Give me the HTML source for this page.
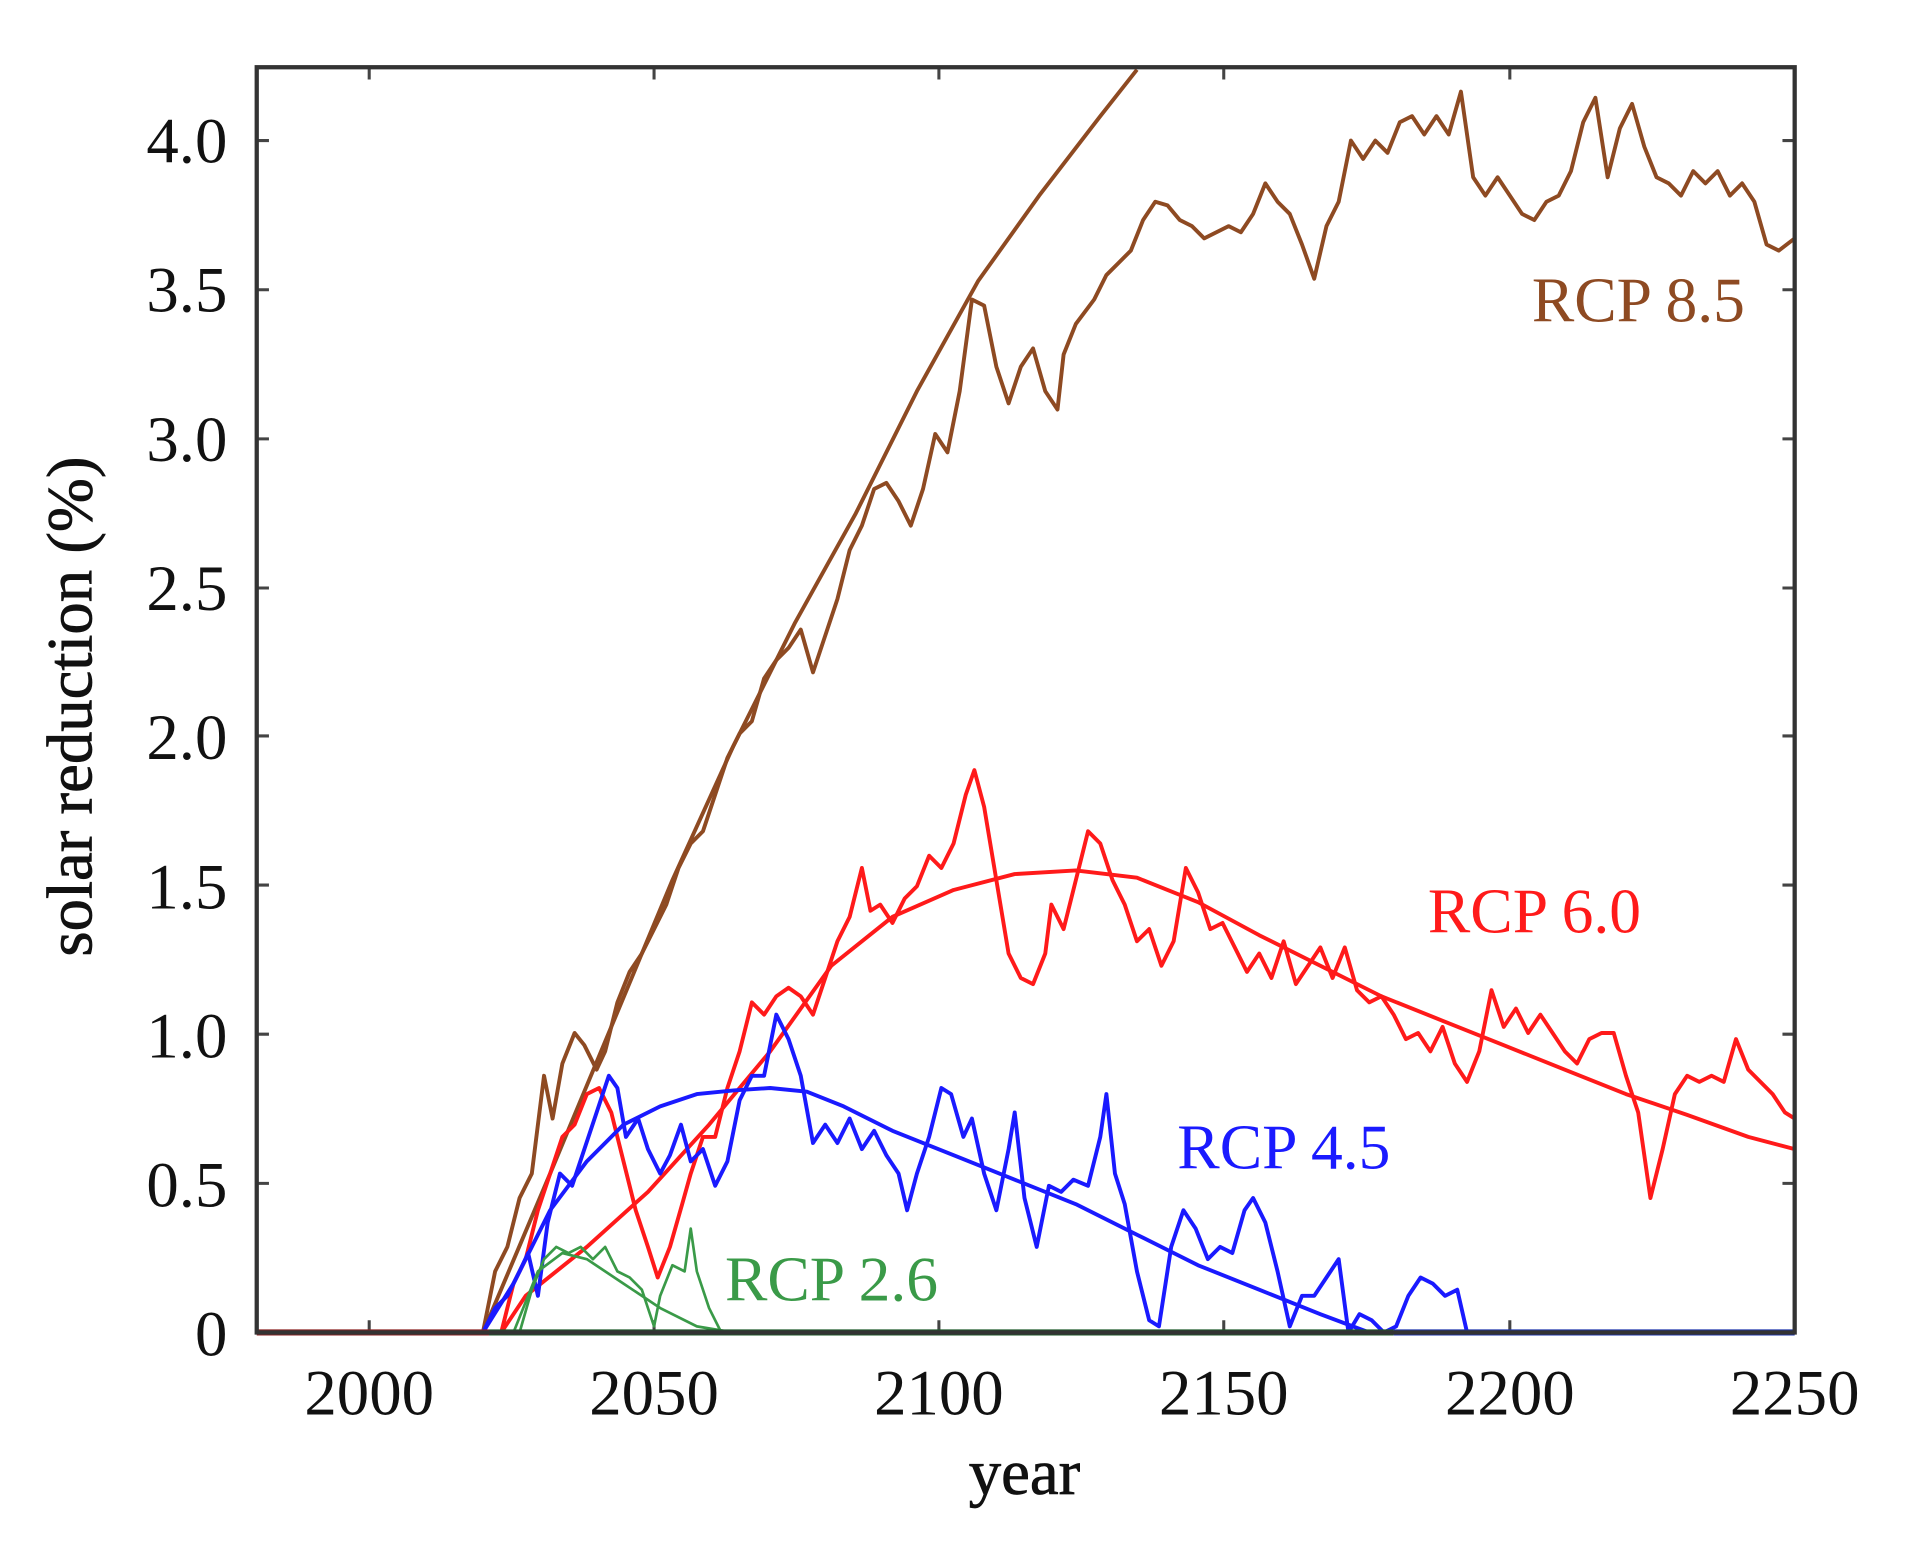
<!DOCTYPE html>
<html><head><meta charset="utf-8"><style>html,body{margin:0;padding:0;background:#fff}svg{display:block}</style></head>
<body>
<svg width="1914" height="1543" viewBox="0 0 1565.6 1262.2" preserveAspectRatio="none" xmlns="http://www.w3.org/2000/svg">
<rect width="1565.6" height="1262.2" fill="#fff"/>
<g font-family="Liberation Serif, serif" font-size="53" fill="#111" text-anchor="end">
<text x="186" y="1109">0</text><text x="186" y="987">0.5</text><text x="186" y="865">1.0</text><text x="186" y="743">1.5</text><text x="186" y="621">2.0</text><text x="186" y="499">2.5</text><text x="186" y="377">3.0</text><text x="186" y="255">3.5</text><text x="186" y="133">4.0</text>
</g>
<g font-family="Liberation Serif, serif" font-size="53" fill="#111" text-anchor="middle">
<text x="302" y="1157">2000</text><text x="535" y="1157">2050</text><text x="768" y="1157">2100</text><text x="1001" y="1157">2150</text><text x="1235" y="1157">2200</text><text x="1468" y="1157">2250</text>
<text x="838" y="1222" stroke="#111" stroke-width="0.6">year</text>
<text transform="translate(75,578) rotate(-90)" stroke="#111" stroke-width="0.6">solar reduction (%)</text>
</g>
<g stroke="#444" stroke-width="2.5">
<path d="M302 1090v-10M535 1090v-10M768 1090v-10M1001 1090v-10M1235 1090v-10M302 55v10M535 55v10M768 55v10M1001 55v10M1235 55v10"/>
<path d="M210 968h10M210 846h10M210 724h10M210 602h10M210 481h10M210 359h10M210 237h10M210 115h10M1468 968h-10M1468 846h-10M1468 724h-10M1468 602h-10M1468 481h-10M1468 359h-10M1468 237h-10M1468 115h-10"/>
</g>
<g fill="none" stroke-width="3.2" stroke-linejoin="round">
<polyline stroke="#8e4a22" points="395,1090 450,960 500,840 550,720 600,610 650,510 700,420 750,320 800,230 850,160 900,95 930,57"/>
<polyline stroke="#8e4a22" points="395,1090 405,1040 415,1020 425,980 435,960 445,880 452,915 460,870 470,845 478,855 488,875 495,860 505,820 515,795 525,780 535,760 545,740 555,710 565,690 575,680 585,650 595,620 605,600 615,590 625,555 635,540 645,530 655,515 665,550 675,520 685,490 695,450 705,430 715,400 725,395 735,410 745,430 755,400 765,355 775,370 785,320 795,245 805,250 815,300 825,330 835,300 845,285 855,320 865,335 870,290 880,265 895,245 905,225 915,215 925,205 935,180 945,165 955,168 965,180 975,185 985,195 995,190 1005,185 1015,190 1025,175 1035,150 1045,165 1055,175 1065,200 1075,228 1085,185 1095,165 1105,115 1115,130 1125,115 1135,125 1145,100 1155,95 1165,110 1175,95 1185,110 1195,75 1205,145 1215,160 1225,145 1235,160 1245,175 1255,180 1265,165 1275,160 1285,140 1295,100 1305,80 1315,145 1325,105 1335,85 1345,120 1355,145 1365,150 1375,160 1385,140 1395,150 1405,140 1415,160 1425,150 1435,165 1445,200 1455,205 1468,195"/>
<polyline stroke="#ff1a1a" points="410,1090 430,1060 480,1020 530,975 580,920 630,860 680,790 730,750 780,728 830,715 880,712 930,718 980,738 1030,765 1080,790 1130,815 1180,835 1230,855 1280,875 1330,895 1380,912 1430,930 1468,940"/>
<polyline stroke="#ff1a1a" points="410,1090 420,1050 430,1030 440,990 450,960 460,930 470,920 480,895 490,890 500,910 510,950 520,990 530,1020 538,1045 548,1020 558,985 565,960 575,930 585,930 595,890 605,860 615,820 625,830 635,815 645,808 655,815 665,830 675,800 685,770 695,750 705,710 712,745 720,740 730,755 740,735 750,725 760,700 770,710 780,690 790,650 797,630 805,660 815,720 825,780 835,800 845,805 855,780 860,740 870,760 880,720 890,680 900,690 910,720 920,740 930,770 940,760 950,790 960,770 970,710 980,730 990,760 1000,755 1010,775 1020,795 1030,780 1040,800 1050,770 1060,805 1070,790 1080,775 1090,800 1100,775 1110,810 1120,820 1130,815 1140,830 1150,850 1160,845 1170,860 1180,840 1190,870 1200,885 1210,860 1220,810 1230,840 1240,825 1250,845 1260,830 1270,845 1280,860 1290,870 1300,850 1310,845 1320,845 1330,880 1340,910 1350,980 1360,940 1370,895 1380,880 1390,885 1400,880 1410,885 1420,850 1430,875 1440,885 1450,895 1460,910 1468,915"/>
<polyline stroke="#1a1aff" points="395,1090 420,1050 450,990 480,950 510,920 540,905 570,895 600,892 630,890 660,893 690,905 730,925 780,945 830,965 880,985 930,1010 980,1035 1030,1055 1080,1075 1120,1090"/>
<polyline stroke="#1a1aff" points="395,1090 405,1070 415,1060 425,1040 432,1025 440,1060 448,1000 458,960 468,970 478,940 488,910 498,880 505,890 512,930 522,915 530,940 540,960 548,945 557,920 565,950 575,940 585,970 595,950 605,900 615,880 625,880 635,830 645,850 655,880 665,935 675,920 685,935 695,915 705,940 715,925 725,945 735,960 742,990 750,960 760,930 770,890 778,895 788,930 795,915 805,960 815,990 825,940 830,910 838,980 848,1020 858,970 868,975 878,965 890,970 900,930 905,895 912,960 920,985 930,1040 940,1080 948,1085 958,1020 968,990 978,1005 988,1030 998,1020 1008,1025 1018,990 1025,980 1035,1000 1045,1040 1055,1085 1065,1060 1075,1060 1085,1045 1095,1030 1103,1090 1112,1075 1122,1080 1132,1090 1142,1085 1152,1060 1162,1045 1172,1050 1182,1060 1192,1055 1200,1090"/>
<polyline stroke="#3a9a48" stroke-width="2.2" points="420,1090 440,1040 460,1025 480,1030 510,1050 540,1070 570,1085 600,1090"/>
<polyline stroke="#3a9a48" stroke-width="2.2" points="425,1090 435,1055 445,1030 455,1020 465,1025 475,1020 485,1030 495,1020 505,1040 515,1045 525,1055 535,1085 540,1060 550,1035 560,1040 565,1005 570,1040 580,1070 590,1090 630,1090"/>
</g>
<g stroke-width="5">
<path d="M210 1090H400" stroke="#8b2020"/>
<path d="M400 1090H1140" stroke="#1f5a2a"/>
<path d="M1140 1090H1468" stroke="#1a33aa"/>
</g>
<rect x="210" y="55" width="1258" height="1035" fill="none" stroke="#333" stroke-width="3.5"/>
<g font-family="Liberation Serif, serif" font-size="52">
<text x="1253" y="263" fill="#8e4a22">RCP 8.5</text>
<text x="1168" y="763" fill="#ff1a1a">RCP 6.0</text>
<text x="963" y="956" fill="#1a1aff">RCP 4.5</text>
<text x="593" y="1064" fill="#3a9a48">RCP 2.6</text>
</g>
</svg>
</body></html>
